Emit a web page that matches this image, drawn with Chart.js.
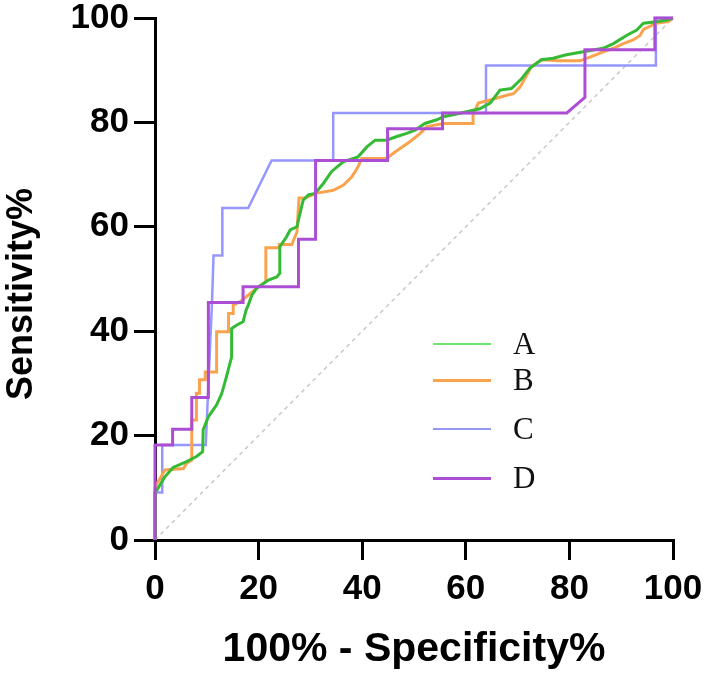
<!DOCTYPE html>
<html lang="en">
<head>
  <meta charset="UTF-8">
  <title>ROC curves</title>
  <script src="https://cdn.jsdelivr.net/npm/chart.js"></script>
  <style>
    html, body { margin: 0; padding: 0; background: #fff; }
    #wrap { position: relative; width: 709px; height: 679px; }
    #legend { position: absolute; left: 433px; top: 0; font-family: "Liberation Serif", "Times New Roman", serif; font-size: 31px; color: #111; }
    .row { position: absolute; left: 0; display: flex; align-items: center; height: 32px; white-space: nowrap; }
    .swatch { width: 58px; margin-right: 22px; }
  </style>
</head>
<body>
<div id="wrap">
  <canvas id="roc" width="709" height="679"></canvas>
  <div id="legend"></div>
</div>

<script>
  const seriesNames = ["A", "B", "C", "D"];
  const xTitle = "100% - Specificity%";
  const yTitle = "Sensitivity%\u00a0\u00a0\u00a0";
  const tickValues = [0, 20, 40, 60, 80, 100];

  // A (green)
  const aX = [0, 0, 0.4, 1.9, 3.5, 6.1, 8.0, 9.2, 9.3, 10.3, 11.9, 12.9, 13.8, 14.8, 14.8, 15.8, 17.0, 17.6, 18.0, 18.7, 19.6, 21.9, 23.5, 24.1, 24.1, 25.4, 26.1, 27.4, 28.0, 28.6, 29.6, 30.9, 32.5, 34.1, 36.4, 39.2, 40.9, 42.5, 44.7, 46.7, 48.6, 50.2, 52.1, 54.4, 55.7, 58.2, 60.8, 62.7, 64.7, 66.6, 68.8, 70.8, 72.4, 74.6, 76.9, 79.2, 82.4, 86.5, 88.5, 91.1, 93.0, 94.3, 96.8, 98.8, 100];
  const aY = [0, 9.1, 9.6, 12.1, 13.9, 15.0, 16.0, 16.9, 21.1, 23.6, 25.9, 28.1, 31.3, 35.1, 40.5, 41.2, 41.8, 44.1, 45.0, 46.9, 48.2, 49.8, 50.4, 51.1, 56.2, 58.1, 59.4, 60.0, 62.6, 65.1, 66.1, 66.4, 68.3, 70.6, 72.5, 73.4, 75.3, 76.6, 76.6, 77.3, 77.9, 78.5, 79.8, 80.5, 81.1, 81.6, 82.2, 82.6, 83.7, 86.2, 86.5, 88.4, 90.4, 92.0, 92.3, 92.9, 93.5, 94.2, 95.1, 96.7, 97.7, 99.0, 99.3, 99.6, 100];

  // B (orange)
  const bX = [0, 0, 0.4, 1.0, 1.9, 5.5, 6.1, 7.1, 7.1, 8.0, 8.0, 8.6, 8.6, 9.7, 9.7, 11.9, 11.9, 14.2, 14.2, 15.1, 15.1, 16.5, 17.5, 19.6, 21.4, 21.4, 24.0, 24.0, 26.4, 27.4, 27.8, 29.0, 31.0, 34.4, 36.4, 38.0, 39.2, 39.9, 44.7, 46.0, 47.3, 49.2, 51.2, 52.5, 55.7, 61.4, 61.4, 62.4, 64.7, 67.9, 69.2, 70.5, 71.4, 72.7, 74.6, 78.0, 82.0, 84.0, 86.5, 88.5, 90.4, 92.3, 93.6, 94.3, 96.8, 99.1, 100];
  const bY = [0, 10.0, 10.9, 11.8, 13.4, 13.7, 14.7, 15.3, 23.0, 23.0, 28.1, 28.1, 30.7, 30.7, 32.2, 32.2, 39.9, 39.9, 43.4, 43.4, 45.0, 45.7, 46.5, 48.2, 49.5, 56.0, 56.0, 56.6, 56.6, 59.0, 65.5, 65.5, 66.4, 67.0, 68.0, 69.6, 71.5, 73.1, 73.1, 74.1, 75.0, 76.3, 77.9, 79.2, 79.8, 79.8, 81.4, 83.7, 84.3, 85.2, 85.5, 86.8, 88.4, 90.7, 92.0, 91.8, 91.8, 92.5, 93.5, 94.2, 95.1, 95.8, 96.6, 97.8, 99.0, 99.3, 100];

  // C (blue)
  const cX = [0, 0, 1.4, 1.4, 9.8, 11.0, 11.3, 13.0, 13.0, 18.0, 22.5, 34.4, 34.4, 63.9, 63.9, 96.7, 96.7, 100];
  const cY = [0, 9.1, 9.1, 18.2, 18.2, 45.5, 54.5, 54.5, 63.6, 63.6, 72.7, 72.7, 81.8, 81.8, 90.9, 90.9, 100, 100];

  // D (purple)
  const dX = [0, 0, 3.4, 3.4, 7.1, 7.1, 10.3, 10.3, 17.0, 17.0, 27.7, 27.7, 31.0, 31.0, 44.9, 44.9, 55.5, 55.5, 79.5, 83.0, 83.0, 96.5, 96.5, 100];
  const dY = [0, 18.2, 18.2, 21.2, 21.2, 27.3, 27.3, 45.5, 45.5, 48.5, 48.5, 57.6, 57.6, 72.7, 72.7, 78.8, 78.8, 81.8, 81.8, 84.8, 93.9, 93.9, 100, 100];

  // chance line
  const refX = [0, 100];
  const refY = [0, 100];

  const colors = ["rgb(52,186,52)", "rgb(250,163,78)", "rgb(150,150,255)", "rgb(172,78,212)"];
  const legendColors = ["rgb(110,228,110)", "rgb(250,163,78)", "rgb(150,150,245)", "rgb(172,78,212)"];
  const widths = [3, 3, 2.5, 3];
  const drawOrder = [1, 2, 3, 0];
  const axisFont = "Arial, 'Liberation Sans', sans-serif";

  const toPoints = (xs, ys) => xs.map((x, i) => ({ x: x, y: ys[i] }));
  const seriesX = [aX, bX, cX, dX];
  const seriesY = [aY, bY, cY, dY];

  const datasets = seriesNames.map((name, i) => ({
    label: name,
    data: toPoints(seriesX[i], seriesY[i]),
    borderColor: colors[i],
    borderWidth: widths[i],
    pointRadius: 0,
    tension: 0,
    fill: false,
    clip: false,
    order: drawOrder[i]
  }));
  datasets.push({
    label: "ref",
    data: toPoints(refX, refY),
    borderColor: "rgb(200,200,200)",
    borderWidth: 1.5,
    borderDash: [4, 4],
    pointRadius: 0,
    fill: false,
    order: 9
  });

  // html legend inside the plot
  const legendRowCenters = [344, 380, 429, 478];
  const htmlLegend = {
    id: "htmlLegend",
    afterUpdate(chart) {
      const box = document.getElementById("legend");
      box.innerHTML = "";
      chart.data.datasets.forEach((ds, i) => {
        if (i >= seriesNames.length) return;
        const row = document.createElement("div");
        row.className = "row";
        row.style.top = (legendRowCenters[i] - 16) + "px";
        const sw = document.createElement("span");
        sw.className = "swatch";
        sw.style.borderTop = (i % 2 ? 3 : 2) + "px solid " + legendColors[i];
        const txt = document.createElement("span");
        txt.textContent = ds.label;
        row.appendChild(sw);
        row.appendChild(txt);
        box.appendChild(row);
      });
    }
  };

  const ctx = document.getElementById("roc").getContext("2d");
  new Chart(ctx, {
    type: "line",
    data: { datasets: datasets },
    plugins: [htmlLegend],
    options: {
      responsive: false,
      animation: false,
      devicePixelRatio: 1,
      layout: { padding: { top: 18, right: 36, left: 0, bottom: 5 } },
      plugins: { legend: { display: false }, tooltip: { enabled: false } },
      scales: {
        x: {
          type: "linear",
          min: 0,
          max: 100,
          afterBuildTicks(s) { s.ticks = tickValues.map(v => ({ value: v })); },
          ticks: { color: "#000", padding: 12, maxRotation: 0, font: { family: axisFont, size: 35, weight: "bold", lineHeight: 1 } },
          grid: { drawOnChartArea: false, color: "#000", lineWidth: 3, tickLength: 20 },
          border: { color: "#000", width: 3 },
          title: { display: true, text: xTitle, color: "#000", padding: 0, font: { family: axisFont, size: 41, weight: "bold", lineHeight: 1.2 } },
          afterFit(s) { s.height = 134; s.paddingLeft = 0; s.paddingRight = 0; }
        },
        y: {
          type: "linear",
          min: 0,
          max: 100,
          afterBuildTicks(s) { s.ticks = tickValues.map(v => ({ value: v })); },
          ticks: { color: "#000", padding: 5, font: { family: axisFont, size: 35, weight: "bold", lineHeight: 1 } },
          grid: { drawOnChartArea: false, color: "#000", lineWidth: 3, tickLength: 21 },
          border: { color: "#000", width: 3 },
          title: { display: true, text: yTitle, color: "#000", padding: 0, font: { family: axisFont, size: 36, weight: "bold", lineHeight: 1.2 } },
          afterFit(s) { s.width = 155; s.paddingTop = 0; s.paddingBottom = 0; }
        }
      }
    }
  });
</script>
</body>
</html>
